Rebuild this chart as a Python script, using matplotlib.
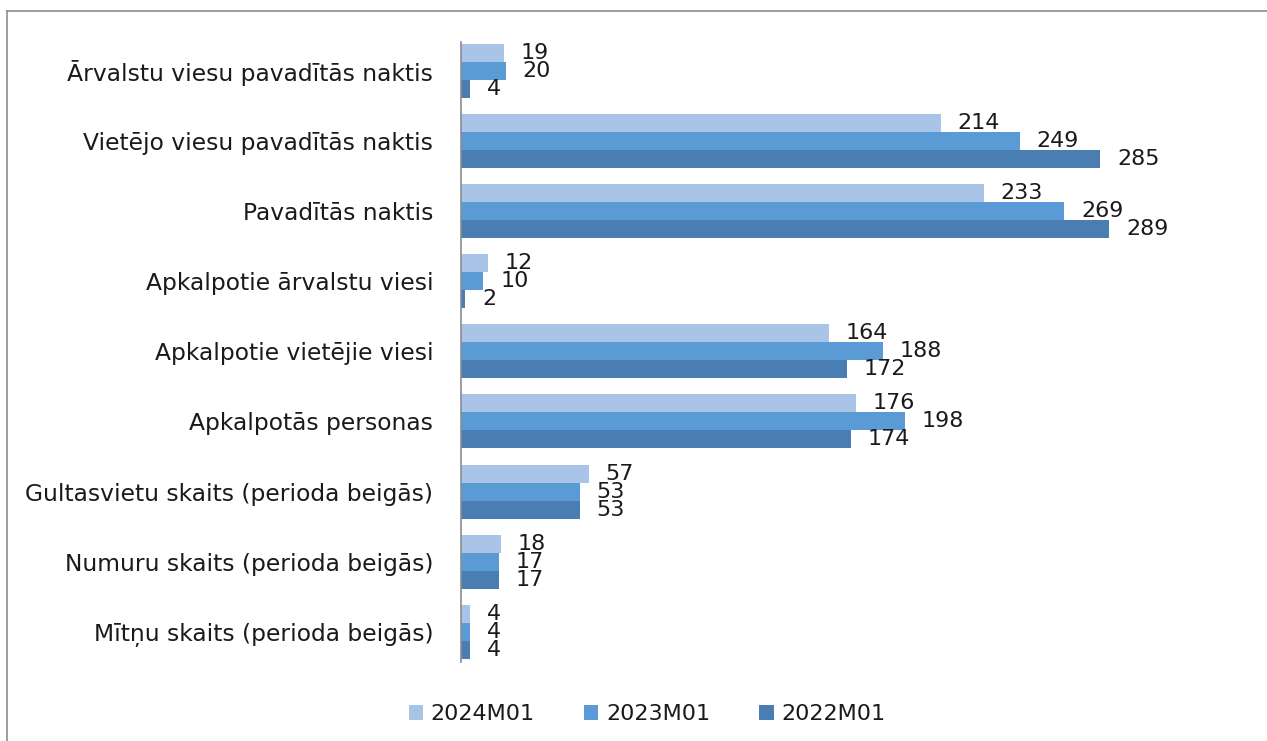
import numpy as np
import matplotlib.pyplot as plt
from matplotlib.lines import Line2D

# Rādītāji (no augšas uz leju)
kategorijas = [
    'Ārvalstu viesu pavadītās naktis',
    'Vietējo viesu pavadītās naktis',
    'Pavadītās naktis',
    'Apkalpotie ārvalstu viesi',
    'Apkalpotie vietējie viesi',
    'Apkalpotās personas',
    'Gultasvietu skaits (perioda beigās)',
    'Numuru skaits (perioda beigās)',
    'Mītņu skaits (perioda beigās)',
]
periodi = ['2024M01', '2023M01', '2022M01']
v2024 = [19, 214, 233, 12, 164, 176, 57, 18, 4]
v2023 = [20, 249, 269, 10, 188, 198, 53, 17, 4]
v2022 = [4, 285, 289, 2, 172, 174, 53, 17, 4]
krasas = ['#A9C4E6', '#5B9BD5', '#4A7EB2']

plt.rcParams['font.family'] = ['DejaVu Sans']

fig = plt.figure(figsize=(12.67, 7.41), dpi=100)
ax = fig.add_axes([461 / 1267, 1 - 662 / 741, 673 / 1267, 620 / 741])

y = np.arange(len(kategorijas))
h = 0.257
for i, (vals, c, lab) in enumerate(zip([v2024, v2023, v2022], krasas, periodi)):
    pos = y + (i - 1) * h
    bars = ax.barh(pos, vals, height=h, color=c, label=lab)
    for b, v in zip(bars, vals):
        ax.annotate(str(v), (b.get_width(), b.get_y() + b.get_height() / 2),
                    xytext=(12, 0), textcoords='offset points',
                    va='center', ha='left', fontsize=16, color='#1a1a1a')

ax.set_yticks(y)
ax.set_yticklabels(kategorijas, fontsize=16.8, color='#1a1a1a')
ax.set_ylim(len(kategorijas) - 1 + 0.43, -0.41)
ax.set_xlim(0, 300)
ax.tick_params(axis='y', length=0, pad=20)
ax.set_xticks([])
for s in ['top', 'right', 'bottom']:
    ax.spines[s].set_visible(False)
ax.spines['left'].set_color('#8c8c8c')
ax.spines['left'].set_linewidth(1.2)

leg = fig.legend(loc='center', bbox_to_anchor=(647 / 1267, 1 - 714 / 741),
                 ncol=3, frameon=False, fontsize=16, handlelength=0.65,
                 handleheight=0.65, handletextpad=0.35, columnspacing=2.2)
for t in leg.get_texts():
    t.set_color('#1a1a1a')

# rāmis ap diagrammu
fig.add_artist(Line2D([7 / 1267, 7 / 1267], [0, 1 - 11 / 741],
                      transform=fig.transFigure, color='#8c8c8c', lw=1.2))
fig.add_artist(Line2D([7 / 1267, 1], [1 - 11 / 741, 1 - 11 / 741],
                      transform=fig.transFigure, color='#8c8c8c', lw=1.2))

fig.savefig('out.png', dpi=100)
